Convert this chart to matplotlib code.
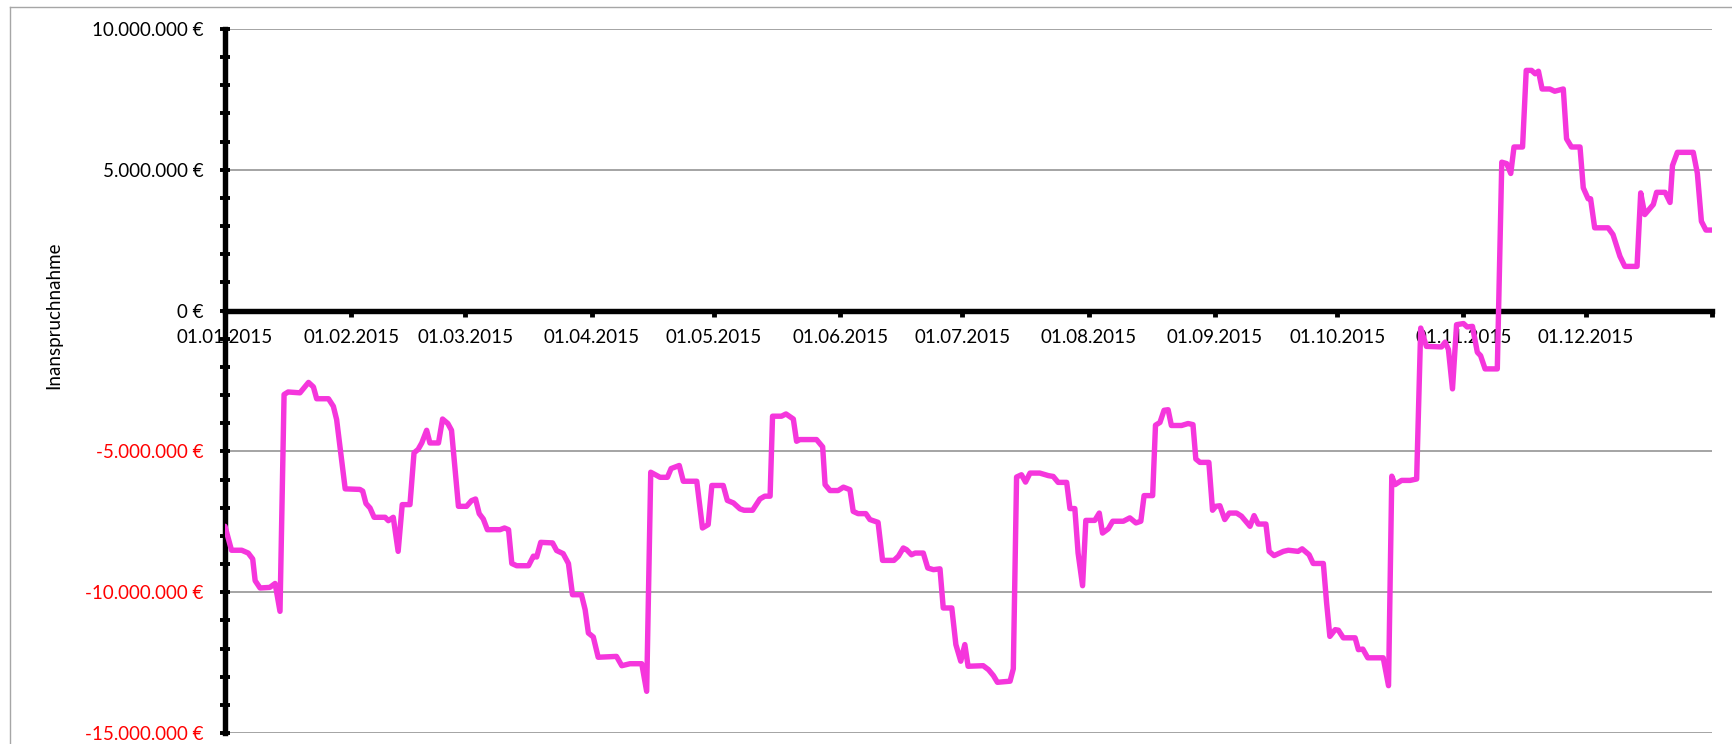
import numpy as np
import matplotlib
matplotlib.use('Agg')
import matplotlib.pyplot as plt
from matplotlib.ticker import FixedLocator, MultipleLocator
from matplotlib.lines import Line2D

# ---------------- data (day offset from 01.01.2015, value in Mio. EUR) ----------------
days = [
    0.0, 1.6, 4.1, 5.7, 6.8, 7.4, 8.6, 11.0, 12.3, 13.5, 14.5, 15.5, 18.4, 20.5, 21.7, 22.5,
    25.4, 26.6, 27.4, 28.6, 29.5, 33.1, 33.8, 34.6, 35.6, 36.6, 39.3, 40.1, 41.3, 42.5, 43.5,
    45.4, 46.4, 47.4, 48.3, 49.5, 50.3, 52.4, 53.4, 54.7, 55.6, 57.3, 59.3, 60.5, 61.5, 62.4,
    63.4, 64.4, 67.5, 68.6, 69.6, 70.4, 71.6, 74.5, 75.7, 76.5, 77.5, 80.4, 81.4, 83.0, 84.3,
    85.3, 87.5, 88.4, 89.2, 90.4, 91.6,
    96.1, 97.4, 99.4, 102.3, 103.5, 104.5, 106.8, 108.6, 109.5, 111.5, 112.5, 115.8, 117.2,
    118.6, 119.5, 122.3, 123.3, 124.8, 126.4, 127.4, 129.5, 131.3, 132.5, 133.8, 134.4, 136.6,
    137.7, 139.5, 140.3, 141.1, 145.2, 146.7, 147.3, 148.5, 150.5, 151.8, 153.4, 154.2, 155.4,
    157.3, 158.3, 160.3, 161.4, 164.2, 165.3, 166.5, 167.3, 168.5, 169.4, 171.4, 172.5, 173.9,
    175.5, 176.3, 178.4, 179.4, 180.6, 181.6, 182.4, 186.1, 187.4, 188.6, 189.6,
    192.7, 193.5, 194.3, 195.5, 196.5, 197.6, 200.0, 202.1, 203.3, 204.5, 206.6, 207.4, 208.6,
    209.4, 210.5, 211.3, 213.5, 214.6, 215.4, 216.8, 217.9, 220.5, 222.1, 223.6, 224.8, 225.6,
    227.7, 228.4, 229.5, 230.5, 231.5, 232.3, 234.8, 236.4, 237.6, 238.3, 239.3, 241.5, 242.4,
    243.2, 244.2, 245.4, 246.5, 248.3, 249.5, 251.6, 252.6, 253.6, 255.5, 256.3, 257.5, 259.8,
    261.0, 263.4, 264.4, 266.1, 267.1, 269.6, 270.4, 271.2, 272.5, 273.3, 274.5, 277.4, 278.2,
    279.3, 280.5, 284.3, 285.6,
    286.4, 287.2, 288.8, 290.9, 292.5, 293.5, 294.9, 298.6, 299.5, 300.3, 301.3, 302.3, 304.0,
    304.9, 306.2, 307.4, 308.2, 309.3, 312.3, 313.4, 314.6, 315.6, 316.4, 318.5, 319.4, 320.7,
    321.6, 322.4, 323.3, 325.2, 326.4, 328.5, 329.3, 330.5, 332.6, 333.4, 334.6, 335.2, 336.2,
    339.5, 340.7, 342.4, 343.6, 346.6, 347.5, 348.5, 350.6, 351.4, 353.5, 354.7, 355.3, 356.5,
    360.4, 361.4, 362.4, 363.5, 364.9,
]
values_mio = [
    -7.66, -8.51, -8.51, -8.61, -8.82, -9.59, -9.85, -9.83, -9.69, -10.68, -2.98, -2.89, -2.92,
    -2.55, -2.71, -3.13, -3.13, -3.40, -3.87, -5.29, -6.33, -6.35, -6.41, -6.85, -7.01, -7.34,
    -7.34, -7.46, -7.34, -8.55, -6.89, -6.89, -5.05, -4.93, -4.70, -4.25, -4.70, -4.70, -3.85,
    -4.01, -4.25, -6.95, -6.95, -6.75, -6.69, -7.21, -7.40, -7.78, -7.78, -7.72, -7.78, -8.98,
    -9.06, -9.06, -8.72, -8.75, -8.23, -8.25, -8.52, -8.63, -8.98, -10.09, -10.09, -10.62,
    -11.45, -11.59, -12.31,
    -12.28, -12.61, -12.54, -12.54, -13.52, -5.74, -5.92, -5.92, -5.61, -5.50, -6.06, -6.06,
    -7.72, -7.60, -6.21, -6.21, -6.74, -6.83, -7.04, -7.09, -7.09, -6.69, -6.59, -6.59, -3.75,
    -3.75, -3.67, -3.85, -4.64, -4.58, -4.58, -4.84, -6.18, -6.39, -6.39, -6.27, -6.36, -7.13,
    -7.21, -7.21, -7.42, -7.52, -8.87, -8.87, -8.72, -8.43, -8.49, -8.67, -8.61, -8.61, -9.14,
    -9.20, -9.17, -10.56, -10.56, -11.86, -12.45, -11.86, -12.63, -12.61, -12.75, -12.96, -13.20,
    -13.16, -12.72, -5.91, -5.83, -6.09, -5.77, -5.77, -5.86, -5.89, -6.10, -6.10, -7.03, -7.03,
    -8.61, -9.77, -7.45, -7.45, -7.19, -7.90, -7.75, -7.48, -7.48, -7.36, -7.54, -7.48, -6.57,
    -6.57, -4.07, -3.97, -3.54, -3.52, -4.08, -4.08, -4.01, -4.05, -5.27, -5.39, -5.39, -7.09,
    -6.95, -6.93, -7.42, -7.19, -7.19, -7.30, -7.66, -7.28, -7.58, -7.58, -8.55, -8.70, -8.55,
    -8.51, -8.55, -8.46, -8.67, -8.98, -8.98, -10.38, -11.57, -11.33, -11.35, -11.62, -11.62,
    -12.04, -12.02, -12.33, -12.33, -13.32,
    -5.88, -6.18, -6.03, -6.03, -5.98, -0.62, -1.27, -1.29, -1.12, -1.38, -2.78, -0.50, -0.46,
    -0.58, -0.56, -1.48, -1.60, -2.07, -2.07, 5.27, 5.22, 4.87, 5.81, 5.81, 8.53, 8.53, 8.41,
    8.50, 7.87, 7.87, 7.79, 7.87, 6.10, 5.81, 5.81, 4.36, 3.97, 3.97, 2.94, 2.94, 2.70, 1.93,
    1.57, 1.57, 4.18, 3.41, 3.77, 4.20, 4.20, 3.84, 5.15, 5.62, 5.62, 4.88, 3.17, 2.86, 2.86,
]

month_starts = [0, 31, 59, 90, 120, 151, 181, 212, 243, 273, 304, 334, 365]
month_labels = ['01.01.2015', '01.02.2015', '01.03.2015', '01.04.2015', '01.05.2015',
                '01.06.2015', '01.07.2015', '01.08.2015', '01.09.2015', '01.10.2015',
                '01.11.2015', '01.12.2015', '']
y_ticks = [-15e6, -10e6, -5e6, 0, 5e6, 10e6]
y_tick_labels = ['-15.000.000 €', '-10.000.000 €', '-5.000.000 €', '0 €',
                 '5.000.000 €', '10.000.000 €']
y_title = 'Inanspruchnahme'

# ---------------- figure ----------------
plt.rcParams['font.family'] = ['Lato', 'DejaVu Sans']
W, H = 1733, 744
fig = plt.figure(figsize=(W / 100, H / 100), dpi=100)
ax = fig.add_axes([225 / W, 1 - 733 / H, (1712 - 225) / W, (733 - 29) / H])

vals = np.array(values_mio) * 1e6
ax.plot(days, vals, color='#F536DC', lw=3.9, solid_joinstyle='round',
        solid_capstyle='round', zorder=3)

ax.set_xlim(0, 365)
ax.set_ylim(-15e6, 10e6)

for s in ('top', 'right'):
    ax.spines[s].set_visible(False)
ax.spines['bottom'].set_position(('data', 0))
ax.spines['bottom'].set_linewidth(3.9)
ax.spines['left'].set_linewidth(3.9)
ax.spines['bottom'].set_zorder(2.6)

ax.yaxis.set_major_locator(FixedLocator(y_ticks))
ax.set_yticklabels(y_tick_labels)
ax.yaxis.set_minor_locator(MultipleLocator(1e6))
ax.tick_params(axis='y', which='both', direction='inout', length=7.5, width=2.8,
               pad=11.5, labelsize=13.5)
for lab, v in zip(ax.get_yticklabels(), y_ticks):
    lab.set_color('#FF0000' if v < 0 else 'black')

ax.xaxis.set_major_locator(FixedLocator(month_starts))
ax.set_xticklabels(month_labels)
ax.tick_params(axis='x', which='major', direction='out', length=4.5, width=3.5,
               pad=9, labelsize=13.5)

ax.grid(axis='y', which='major', color='#8c8c8c', lw=1.1)
ax.set_axisbelow(True)

fig.text(54 / W, 1 - 315 / H, y_title, rotation=90, ha='center', va='center',
         fontsize=13.5)

# outer chart border (cropped)
fig.add_artist(Line2D([10 / W, 10 / W], [1 - 7 / H, -0.05], transform=fig.transFigure,
                      color='#a6a6a6', lw=1.0))
fig.add_artist(Line2D([10 / W, 1.05], [1 - 7 / H, 1 - 7 / H], transform=fig.transFigure,
                      color='#a6a6a6', lw=1.0))

fig.savefig('out.png', dpi=100)
